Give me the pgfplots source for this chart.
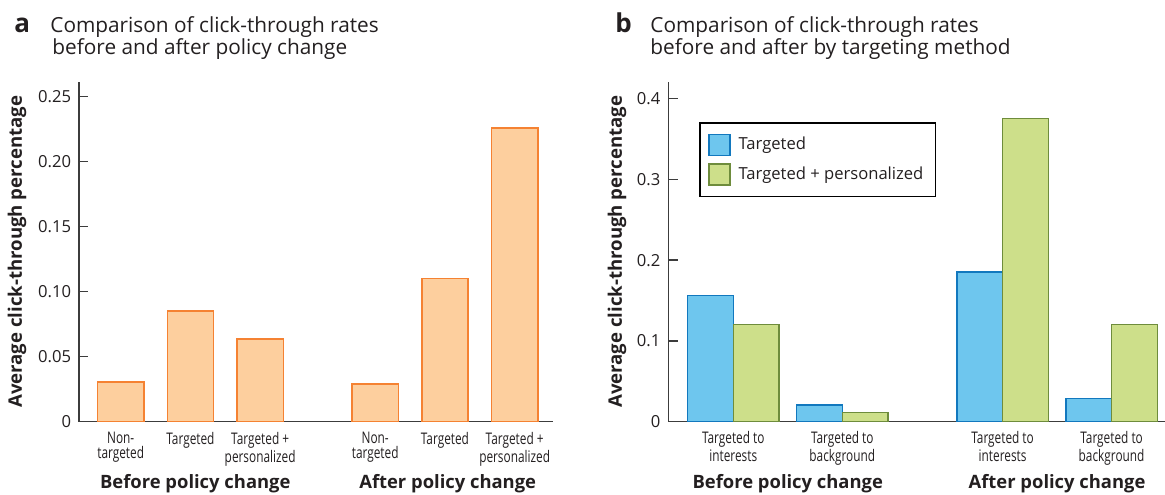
\documentclass[border=0pt]{standalone}
\usepackage{pgfplots}
\pgfplotsset{compat=1.18}
\usepackage{fontspec}
\setmainfont{Open Sans}
\definecolor{txt}{HTML}{231F20}
\definecolor{axc}{HTML}{3C3C3C}
\definecolor{orfill}{HTML}{FDCF9E}
\definecolor{oredge}{HTML}{F58232}
\definecolor{blfill}{HTML}{6EC6EE}
\definecolor{bledge}{HTML}{1278BE}
\definecolor{grfill}{HTML}{CDDF8A}
\definecolor{gredge}{HTML}{6E8C3C}
\pgfplotsset{
  myax/.style={
    scale only axis, height=170pt, ymin=0,
    axis x line*=bottom, axis y line*=left,
    axis line style={axc, line width=0.75pt, -},
    tick align=inside,
    ytick style={axc, line width=0.75pt},
    major tick length=4.7pt,
    xtick style={draw=none},
    yticklabel style={inner sep=0pt, xshift=-3.8pt, font=\fontsize{8.3}{10}\selectfont, text=txt},
    xticklabel style={inner sep=0pt, yshift=-5pt, align=center, xscale=0.74, font=\fontsize{8}{7.25}\selectfont, text=txt},
    ylabel style={anchor=center, font=\bfseries\fontsize{9.3}{11}\selectfont, text=txt},
    clip=false,
  },
}
\tikzset{
  grp/.style={anchor=base, font=\bfseries\fontsize{9.2}{11}\selectfont, text=txt},
  ttl/.style={anchor=base west, inner sep=0pt, font=\fontsize{10.4}{11}\selectfont, text=txt},
  lbl/.style={anchor=base west, inner sep=0pt, font=\bfseries\fontsize{13}{13}\selectfont, text=txt},
}
\begin{document}
\begin{tikzpicture}
\path[use as bounding box] (0,0) rectangle (582.5pt,247pt);
% Panel a
\begin{axis}[myax, at={(39.5pt,36.15pt)}, anchor=south west, width=237pt,
  xmin=-0.598, xmax=6.20, ymax=0.2615,
  ytick={0,0.05,0.10,0.15,0.20,0.25}, yticklabels={0,0.05,0.10,0.15,0.20,0.25},
  xtick={0,1,2,3.65,4.65,5.65},
  xticklabels={{Non-\\targeted},{Targeted},{Targeted +\\personalized},{Non-\\targeted},{Targeted},{Targeted +\\personalized}},
  ylabel={Average click-through percentage},
  ylabel style={at={(axis description cs:-0.1308,0.5)}},
]
\addplot[ybar, bar width=23.15pt, bar shift=0pt, fill=orfill, draw=oredge, line width=0.75pt]
  coordinates {(0,0.0305) (1,0.085) (2,0.0636) (3.65,0.029) (4.65,0.11) (5.65,0.226)};
\node[grp] at (axis cs:1.07,0) [yshift=-33.3pt] {Before policy change};
\node[grp] at (axis cs:4.69,0) [yshift=-33.3pt] {After policy change};
\end{axis}
% Panel b
\begin{axis}[myax, at={(334.15pt,36.15pt)}, anchor=south west, width=248.35pt,
  xmin=-0.596, xmax=3.96, ymax=0.4208,
  ytick={0,0.1,0.2,0.3,0.4}, yticklabels={0,0.1,0.2,0.3,0.4},
  xtick={0,1,2.47,3.47},
  xticklabels={{Targeted to\\interests},{Targeted to\\background},{Targeted to\\interests},{Targeted to\\background}},
  xticklabel style={yshift=5pt},
  ybar=0pt, bar width=22.9pt,
  ylabel={Average click-through percentage},
  ylabel style={at={(axis description cs:-0.1033,0.5)}},
  legend style={at={(0.0624,0.8806)}, anchor=north west, draw=black, line width=0.75pt, fill=white,
    font=\fontsize{8.3}{10}\selectfont, text=txt, inner xsep=4pt, inner ysep=5pt, row sep=3pt},
  legend cell align=left,
]
\addplot[fill=blfill, draw=bledge, line width=0.75pt,
  legend image code/.code={\draw[fill=blfill, draw=bledge, line width=0.75pt] (0pt,-5.25pt) rectangle (10.5pt,5.25pt); \path (12.5pt,0pt);}]
  coordinates {(0,0.156) (1,0.0207) (2.47,0.185) (3.47,0.029)};
\addplot[fill=grfill, draw=gredge, line width=0.75pt,
  legend image code/.code={\draw[fill=grfill, draw=gredge, line width=0.75pt] (0pt,-5.25pt) rectangle (10.5pt,5.25pt); \path (12.5pt,0pt);}]
  coordinates {(0,0.1205) (1,0.0116) (2.47,0.3755) (3.47,0.1205)};
\legend{Targeted, Targeted + personalized\hspace{3pt}}
\node[grp] at (axis cs:0.50,0) [yshift=-33.3pt] {Before policy change};
\node[grp] at (axis cs:2.97,0) [yshift=-33.3pt] {After policy change};
\end{axis}
% Titles
\node[lbl] at (7pt,230.5pt) {a};
\node[ttl] at (25pt,230.5pt) {Comparison of click-through rates};
\node[ttl] at (26pt,219.5pt) {before and after policy change};
\node[lbl] at (307.5pt,230.5pt) {b};
\node[ttl] at (325pt,230.5pt) {Comparison of click-through rates};
\node[ttl] at (325pt,219.5pt) {before and after by targeting method};
\end{tikzpicture}
\end{document}
